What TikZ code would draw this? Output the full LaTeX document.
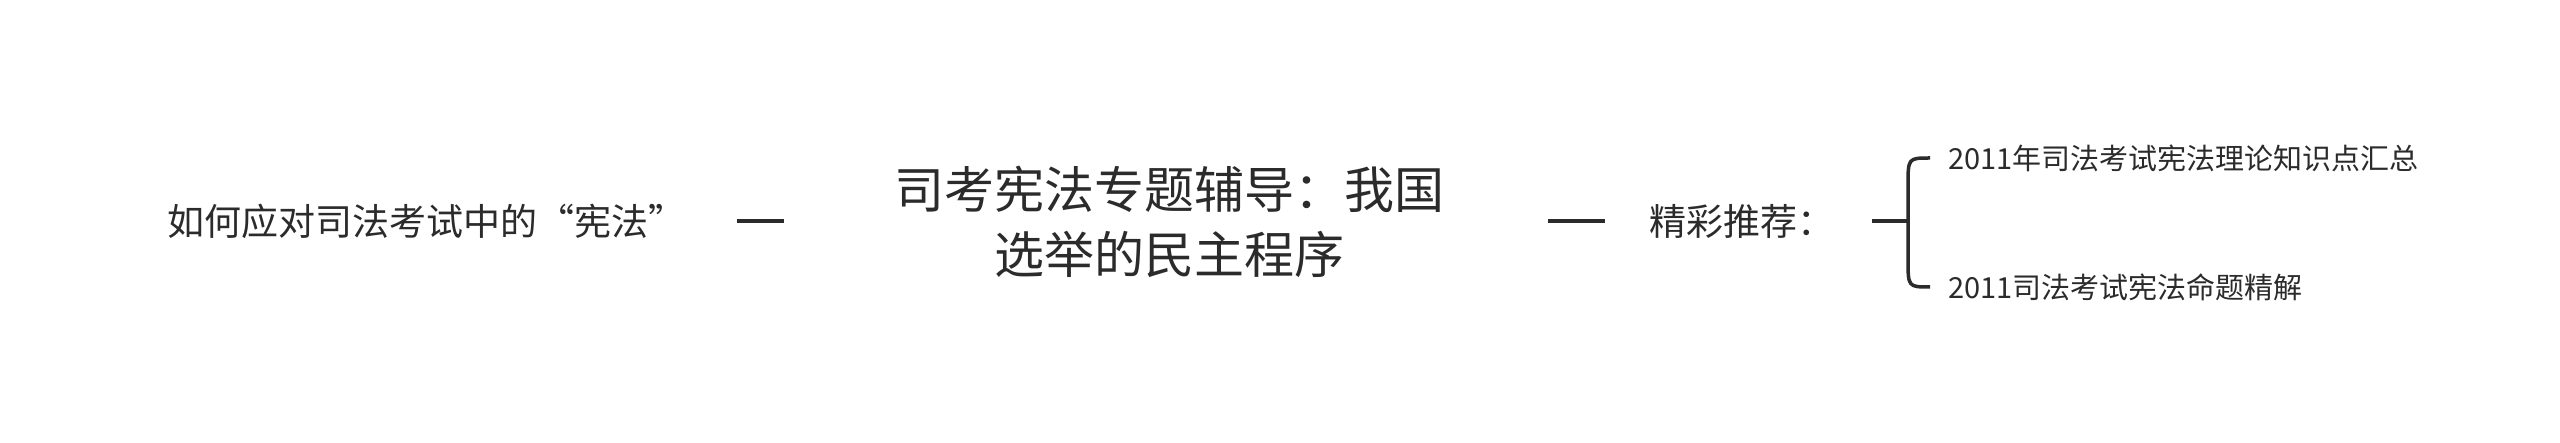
\documentclass[tikz,border=0pt]{standalone}
\usepackage{fontspec}
\setmainfont{Noto Sans CJK SC}
\usetikzlibrary{calc}
\definecolor{txt}{HTML}{2B2B2B}
\definecolor{ln}{HTML}{2B2B2B}
\begin{document}
\begin{tikzpicture}[x=1pt,y=-1pt,
  every node/.style={inner sep=0pt, outer sep=0pt, text=txt},
  mainlabel/.style={font=\fontsize{37}{44}\selectfont},
  topic/.style={font=\fontsize{50}{65}\selectfont, align=center},
  childlabel/.style={font=\fontsize{29}{35}\selectfont, inner xsep=18pt},
  conn/.style={draw=ln, line width=4pt},
  brk/.style={draw=ln, line width=3.5pt}]
\useasboundingbox[fill=white] (0,0) rectangle (2560,443);
\node[mainlabel, anchor=west] (left) at (167,221) {如何应对司法考试中的“宪法”};
\node[topic] (center) at (1169,222) {司考宪法专题辅导：我国\\选举的民主程序};
\node[mainlabel, anchor=west] (rec) at (1649,221) {精彩推荐：};
\node[childlabel, anchor=west] (c1) at (1930,158) {2011年司法考试宪法理论知识点汇总};
\node[childlabel, anchor=west] (c2) at (1930,287) {2011司法考试宪法命题精解};
\coordinate (fork) at (1908,221);
\draw[conn, shorten <=52pt, shorten >=110pt] (left.east) -- (left.east -| center.west);
\draw[conn, shorten <=104pt, shorten >=44pt] (center.east |- rec.west) -- (rec.west);
\draw[brk, shorten <=38pt] (rec.east) -- (fork);
\draw[brk] (fork) -- ($(fork |- c1.west)+(0,28)$) .. controls (fork |- c1.west) .. (c1.west);
\draw[brk] (fork) -- ($(fork |- c2.west)+(0,-28)$) .. controls (fork |- c2.west) .. (c2.west);
\end{tikzpicture}
\end{document}
